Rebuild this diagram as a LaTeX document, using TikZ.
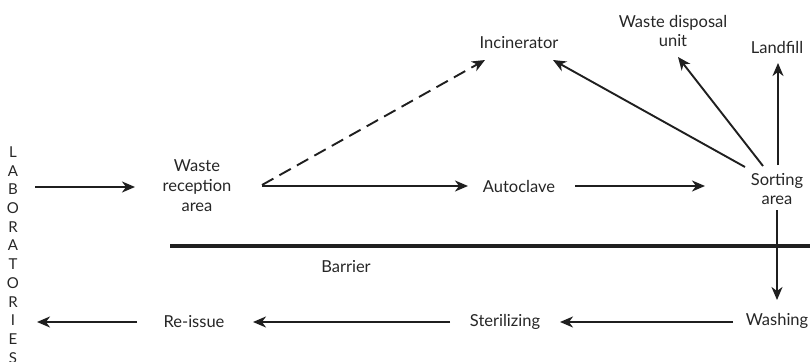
\documentclass[tikz,border=0pt]{standalone}
\usepackage{fontspec}
\setmainfont{Lato}
\usetikzlibrary{arrows.meta}
\tikzset{
  lbl/.style={inner sep=0pt, align=center, font=\fontsize{16.5}{19}\selectfont, text=black!85},
  arr/.style={line width=1.9pt, draw=black!88, -{Stealth[length=13pt, width=11pt, inset=4pt]}},
  dashedarr/.style={arr, dash pattern=on 13pt off 7pt},
  barrierline/.style={line width=4.5pt, draw=black!88},
}
\begin{document}
\begin{tikzpicture}[x=1pt, y=-1pt]
\useasboundingbox (0,0) rectangle (810,361);
\node[lbl, font=\fontsize{15}{18.7}\selectfont] (labs) at (13,255) {L\\A\\B\\O\\R\\A\\T\\O\\R\\I\\E\\S};
\node[lbl, font=\fontsize{16.5}{20}\selectfont] (wra) at (197,186) {Waste\\reception\\area};
\node[lbl] (inc) at (519,43) {Incinerator};
\node[lbl, font=\fontsize{16.5}{18.5}\selectfont] (wdu) at (673,31) {Waste disposal\\unit};
\node[lbl] (land) at (777,47) {Landfill};
\node[lbl] (auto) at (519,186) {Autoclave};
\node[lbl, font=\fontsize{16.5}{18.5}\selectfont] (sort) at (777,189) {Sorting\\area};
\node[lbl] (barrier) at (346,267) {Barrier};
\node[lbl] (wash) at (777,321) {Washing};
\node[lbl] (ster) at (505,322) {Sterilizing};
\node[lbl] (reis) at (194,322) {Re-issue};
\coordinate (barL) at (170,246);
\coordinate (barR) at (810,246);

\draw[barrierline] (barL) -- (barR);
\draw[arr] ([shift={(22,-68)}]labs.center) -- ([shift={(-62,1)}]wra.center);
\draw[arr] ([shift={(65,0)}]wra.center) -- ([shift={(-51,0)}]auto.center);
\draw[dashedarr] ([shift={(65,-1)}]wra.center) -- ([shift={(-34,17)}]inc.center);
\draw[arr] ([shift={(56,0)}]auto.center) -- ([shift={(-72,-3)}]sort.center);
\draw[arr] ([shift={(-32,-22)}]sort.center) -- ([shift={(34,17)}]inc.center);
\draw[arr] ([shift={(-14,-23)}]sort.center) -- ([shift={(5,26)}]wdu.center);
\draw[arr] ([shift={(1,-24)}]sort.center) -- ([shift={(1,16)}]land.center);
\draw[arr] ([shift={(0,21)}]sort.center) -- ([shift={(0,-21)}]wash.center);
\draw[arr] ([shift={(-44,1)}]wash.center) -- ([shift={(55,0)}]ster.center);
\draw[arr] ([shift={(-55,0)}]ster.center) -- ([shift={(59,0)}]reis.center);
\draw[arr] ([shift={(-57,0)}]reis.center) -- ([shift={(24,67)}]labs.center);
\end{tikzpicture}
\end{document}
